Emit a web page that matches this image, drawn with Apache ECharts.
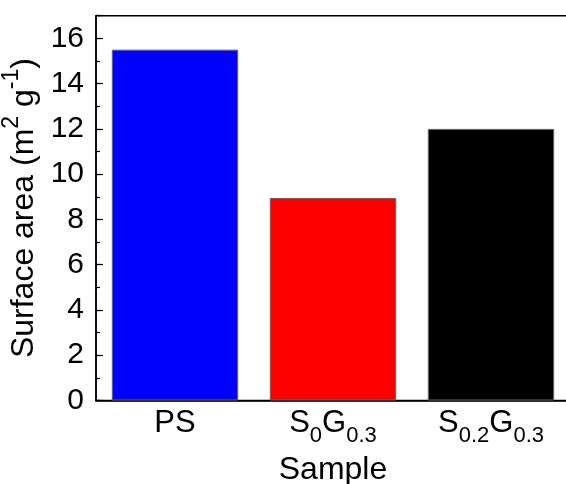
<!DOCTYPE html>
<html>
<head>
<meta charset="utf-8">
<script src="https://cdn.jsdelivr.net/npm/echarts@6/dist/echarts.min.js"></script>
<style>html,body{margin:0;padding:0;background:#fff}#c{width:566px;height:484px}</style>
</head>
<body>
<div id="c"></div>
<script>
var categories = ['PS', 'S_{0}G_{0.3}', 'S_{0.2}G_{0.3}'];
var values = [15.5, 8.95, 12.0];
var barColors = ['#0000ff', '#ff0000', '#000000'];
var yTicks = [0, 2, 4, 6, 8, 10, 12, 14, 16];

function toRich(s) {
  var out = '';
  var re = /_\{([^}]*)\}/g, last = 0, m;
  while ((m = re.exec(s)) !== null) {
    if (m.index > last) out += '{n|' + s.slice(last, m.index) + '}';
    out += '{s|' + m[1] + '}';
    last = re.lastIndex;
  }
  if (last < s.length) out += '{n|' + s.slice(last) + '}';
  return out;
}

var FONT = 'Liberation Sans, Arial, sans-serif';
var chart = echarts.init(document.getElementById('c'), null, {renderer: 'canvas'});
chart.setOption({
  animation: false,
  backgroundColor: '#fff',
  grid: {left: 96, top: 15.7, width: 474, height: 384.8, containLabel: false, outerBoundsMode: 'none',
         show: true, borderColor: '#000', borderWidth: 1.5, backgroundColor: 'transparent'},
  xAxis: {
    type: 'category',
    data: categories,
    name: 'Sample',
    nameLocation: 'middle',
    nameGap: 54,
    nameTextStyle: {fontFamily: FONT, fontSize: 32, color: '#000'},
    axisLine: {lineStyle: {color: '#000', width: 1.5}},
    axisTick: {show: true, inside: true, alignWithLabel: true, length: 7, lineStyle: {color: '#000', width: 1.2}},
    axisLabel: {
      interval: 0,
      hideOverlap: false,
      margin: 7,
      formatter: function (v) { return toRich(v); },
      rich: {
        n: {fontFamily: FONT, fontSize: 31, color: '#000', verticalAlign: 'top', padding: [0, 0, 8, 0]},
        s: {fontFamily: FONT, fontSize: 22, color: '#000', verticalAlign: 'bottom'}
      }
    },
    splitLine: {show: false}
  },
  yAxis: [{
    type: 'value',
    min: 0, max: 17, interval: 2,
    name: '{n|Surface area (m}{p|2}{n| g}{p|-1}{n|)}',
    nameLocation: 'middle',
    nameGap: 52,
    nameRotate: 90,
    nameTextStyle: {
      rich: {
        n: {fontFamily: FONT, fontSize: 32, color: '#000', verticalAlign: 'bottom', padding: [8, 0, 0, 0]},
        p: {fontFamily: FONT, fontSize: 23, color: '#000', verticalAlign: 'top'}
      }
    },
    axisLine: {show: true, lineStyle: {color: '#000', width: 1.5}},
    axisTick: {show: true, inside: true, length: 7, lineStyle: {color: '#000', width: 1.2}},
    axisLabel: {
      margin: 12, fontFamily: FONT, fontSize: 30, color: '#000',
      formatter: function (v) { return yTicks.indexOf(v) >= 0 ? String(v) : ''; }
    },
    splitLine: {show: false}
  }, {
    type: 'value',
    position: 'left',
    min: 0, max: 17, interval: 1,
    axisLine: {show: false},
    axisTick: {show: true, inside: true, length: 4, lineStyle: {color: '#000', width: 1.2}},
    axisLabel: {show: false},
    splitLine: {show: false}
  }],
  series: [{
    type: 'bar',
    yAxisIndex: 0,
    barWidth: '80%',
    data: values.map(function (v, i) {
      return {value: v, itemStyle: {color: barColors[i], borderColor: '#666', borderWidth: 1}};
    })
  }]
});
</script>
</body>
</html>
